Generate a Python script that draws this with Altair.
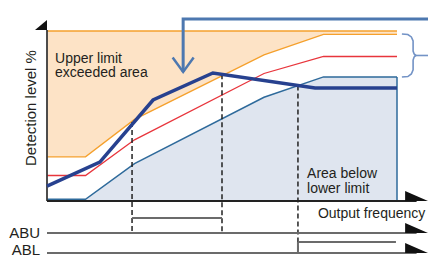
import altair as alt
import pandas as pd

# ---------------- data (x: output frequency units, y: detection level %) ----------------
freq        = [0, 11, 25, 62, 79, 100]
upper_limit = [26, 26, 48, 86, 98, 98]
mid_level   = [15, 15, 36, 75, 85, 85]
lower_limit = [1, 1, 22, 61, 73, 73]

det_freq  = [0, 15.1, 30.3, 47.4, 76.6, 100]
det_level = [8.8, 22.9, 59.4, 75.3, 66.5, 66.5]

switch_freq   = [24.3, 50.0, 71.7]
switch_top    = [46.5, 74.5, 68.0]
switch_bottom = [-18.8, -18.8, -30.6]

signal_names = ["ABU", "ABL"]
signal_base  = [-18.8, -30.6]
signal_high  = [-10.0, -24.1]
signal_on    = [24.3, 71.7]
signal_off   = [50.0, 99.7]
signal_label_L = [-21.8, -32.0]

arrow_base_f = 105.6          # x position of the arrow heads (centre)
callout_f = [38.9, 38.9, 111.2]
callout_L = [75.9, 107.1, 107.1]
chevron_f = [35.9, 38.9, 41.9]
chevron_L = [84.4, 75.9, 84.4]

brace_f = [101.4, 103.1, 104.1, 104.6, 104.6, 104.9, 105.4, 104.9, 104.6, 104.6, 104.1, 103.1, 101.4]
brace_L = [98.2, 97.9, 96.5, 94.1, 88.2, 86.5, 85.6, 84.7, 82.9, 77.1, 74.7, 73.2, 72.9]

labels_left = ["Upper limit", "exceeded area", "Area below", "lower limit", "Output frequency"]
labels_left_f = [2.3, 2.3, 74.3, 74.3, 77.4]
labels_left_L = [81.4, 72.9, 13.5, 4.7, -10.2]

# ---------------- scales ----------------
xs = alt.Scale(domain=[-11.142857, 108.857143], nice=False, zero=False)
ys = alt.Scale(domain=[-32.941, 113.5294], nice=False, zero=False)


def X(field):
    return alt.X(field, type="quantitative", scale=xs, axis=None)


def Y(field):
    return alt.Y(field, type="quantitative", scale=ys, axis=None)


FONT = "Liberation Sans"
TXT = "#231f20"

base_df = pd.DataFrame({"f": freq, "upper": upper_limit, "mid": mid_level,
                        "lower": lower_limit})
base_df["top"] = 100
base_df["zero"] = 0

orange_fill = alt.Chart(base_df).mark_area(color="#fde3c6", opacity=1).encode(
    x=X("f"), y=Y("upper"), y2=alt.Y2("top"))
blue_fill = alt.Chart(base_df).mark_area(color="#dfe5ef", opacity=1).encode(
    x=X("f"), y=Y("lower"), y2=alt.Y2("zero"))

upper_line = alt.Chart(base_df).mark_line(color="#f5a02c", strokeWidth=1.3).encode(
    x=X("f"), y=Y("upper"))
top_line = alt.Chart(base_df).mark_line(color="#f5a02c", strokeWidth=1.3).encode(
    x=X("f"), y=Y("top"))
mid_line = alt.Chart(base_df).mark_line(color="#e8353c", strokeWidth=1.3).encode(
    x=X("f"), y=Y("mid"))
lower_line = alt.Chart(base_df).mark_line(color="#2e6a9b", strokeWidth=1.5).encode(
    x=X("f"), y=Y("lower"))

edge_df = pd.DataFrame({"f": [100], "a": [0], "b": [lower_limit[-1]]})
blue_edge = alt.Chart(edge_df).mark_rule(color="#2e6a9b", strokeWidth=1.5).encode(
    x=X("f"), y=Y("a"), y2=alt.Y2("b"))

# axes
yaxis_df = pd.DataFrame({"f": [0], "a": [0], "b": [100.6]})
y_axis = alt.Chart(yaxis_df).mark_rule(color="#3a3a3a", strokeWidth=1.8).encode(
    x=X("f"), y=Y("a"), y2=alt.Y2("b"))
xaxis_df = pd.DataFrame({"a": [0], "b": [arrow_base_f], "L": [0]})
x_axis = alt.Chart(xaxis_df).mark_rule(color="#222222", strokeWidth=1.8).encode(
    x=X("a"), x2=alt.X2("b"), y=Y("L"))

# dashed switching lines
sw_df = pd.DataFrame({"f": switch_freq, "a": switch_top, "b": switch_bottom})
dashed = alt.Chart(sw_df).mark_rule(color="#222222", strokeWidth=1.5,
                                    strokeDash=[5, 3]).encode(
    x=X("f"), y=Y("a"), y2=alt.Y2("b"))

# detection level
det_df = pd.DataFrame({"f": det_freq, "L": det_level})
det_line = alt.Chart(det_df).mark_line(color="#27418f", strokeWidth=3.5).encode(
    x=X("f"), y=Y("L"))

# signal timelines
sig_df = pd.DataFrame({"name": signal_names, "base": signal_base, "high": signal_high,
                       "on": signal_on, "off": signal_off, "lab_L": signal_label_L})
sig_df["start"] = 0
sig_df["end"] = arrow_base_f
sig_df["lab_f"] = -2.0
sig_base = alt.Chart(sig_df).mark_rule(color="#6b6b6b", strokeWidth=2).encode(
    x=X("start"), x2=alt.X2("end"), y=Y("base"))
sig_high = alt.Chart(sig_df).mark_rule(color="#6b6b6b", strokeWidth=2).encode(
    x=X("on"), x2=alt.X2("off"), y=Y("high"))
abl_df = sig_df[sig_df["name"] == "ABL"]
abl_rise = alt.Chart(abl_df).mark_rule(color="#6b6b6b", strokeWidth=2).encode(
    x=X("on"), y=Y("base"), y2=alt.Y2("high"))
sig_text = alt.Chart(sig_df).mark_text(align="right", baseline="alphabetic", font=FONT,
                                        fontSize=15, color=TXT).encode(
    x=X("lab_f"), y=Y("lab_L"), text="name:N")

# arrow heads (half triangles sitting on the lines)
arrow_df = pd.DataFrame({"f": [arrow_base_f] * 3,
                         "L": [2.94, signal_base[0] + 2.94, signal_base[1] + 2.94]})
arrows = alt.Chart(arrow_df).mark_point(
    shape="M -1 -0.435 L 1 0.435 L -1 0.435 Z", size=529, filled=True,
    color="#111111", opacity=1, strokeWidth=0).encode(x=X("f"), y=Y("L"))
yarrow_df = pd.DataFrame({"f": [-1.714], "L": [103.5]})
yarrow = alt.Chart(yarrow_df).mark_point(
    shape="M -1 0.833 L 1 -0.833 L 1 0.833 Z", size=144, filled=True,
    color="#111111", opacity=1, strokeWidth=0).encode(x=X("f"), y=Y("L"))

# callout arrow
call_df = pd.DataFrame({"f": callout_f, "L": callout_L, "o": [0, 1, 2]})
callout = alt.Chart(call_df).mark_line(color="#4d78b0", strokeWidth=3).encode(
    x=X("f"), y=Y("L"), order="o:Q")
chev_df = pd.DataFrame({"f": chevron_f, "L": chevron_L, "o": [0, 1, 2]})
chevron = alt.Chart(chev_df).mark_line(color="#4d78b0", strokeWidth=2.5).encode(
    x=X("f"), y=Y("L"), order="o:Q")

# brace
brace_df = pd.DataFrame({"f": brace_f, "L": brace_L, "o": list(range(len(brace_f)))})
brace = alt.Chart(brace_df).mark_line(color="#7393c6", strokeWidth=1.6).encode(
    x=X("f"), y=Y("L"), order="o:Q")
tick_df = pd.DataFrame({"a": [105.0], "b": [111.2], "L": [85.6]})
brace_tick = alt.Chart(tick_df).mark_rule(color="#7393c6", strokeWidth=1.6).encode(
    x=X("a"), x2=alt.X2("b"), y=Y("L"))

# texts
lab_df = pd.DataFrame({"t": labels_left, "f": labels_left_f, "L": labels_left_L})
lab_text = alt.Chart(lab_df).mark_text(align="left", baseline="alphabetic", font=FONT,
                                        fontSize=14, color=TXT).encode(
    x=X("f"), y=Y("L"), text="t:N")
ylab_df = pd.DataFrame({"t": ["Detection level %"], "f": [-4.6], "L": [54.7]})
ylab = alt.Chart(ylab_df).mark_text(align="center", baseline="middle", angle=270,
                                     font=FONT, fontSize=15, color=TXT).encode(
    x=X("f"), y=Y("L"), text="t:N")

chart = alt.layer(
    orange_fill, blue_fill, top_line, upper_line, mid_line, lower_line, blue_edge,
    y_axis, x_axis, dashed, sig_base, sig_high, abl_rise, det_line,
    arrows, yarrow, callout, chevron, brace, brace_tick,
    lab_text, ylab, sig_text,
).properties(
    width=420, height=249, padding=0,
    autosize=alt.AutoSizeParams(type="none"),
).configure_view(stroke=None)

chart.save("out.html", embed_options={"renderer": "svg", "actions": False})
